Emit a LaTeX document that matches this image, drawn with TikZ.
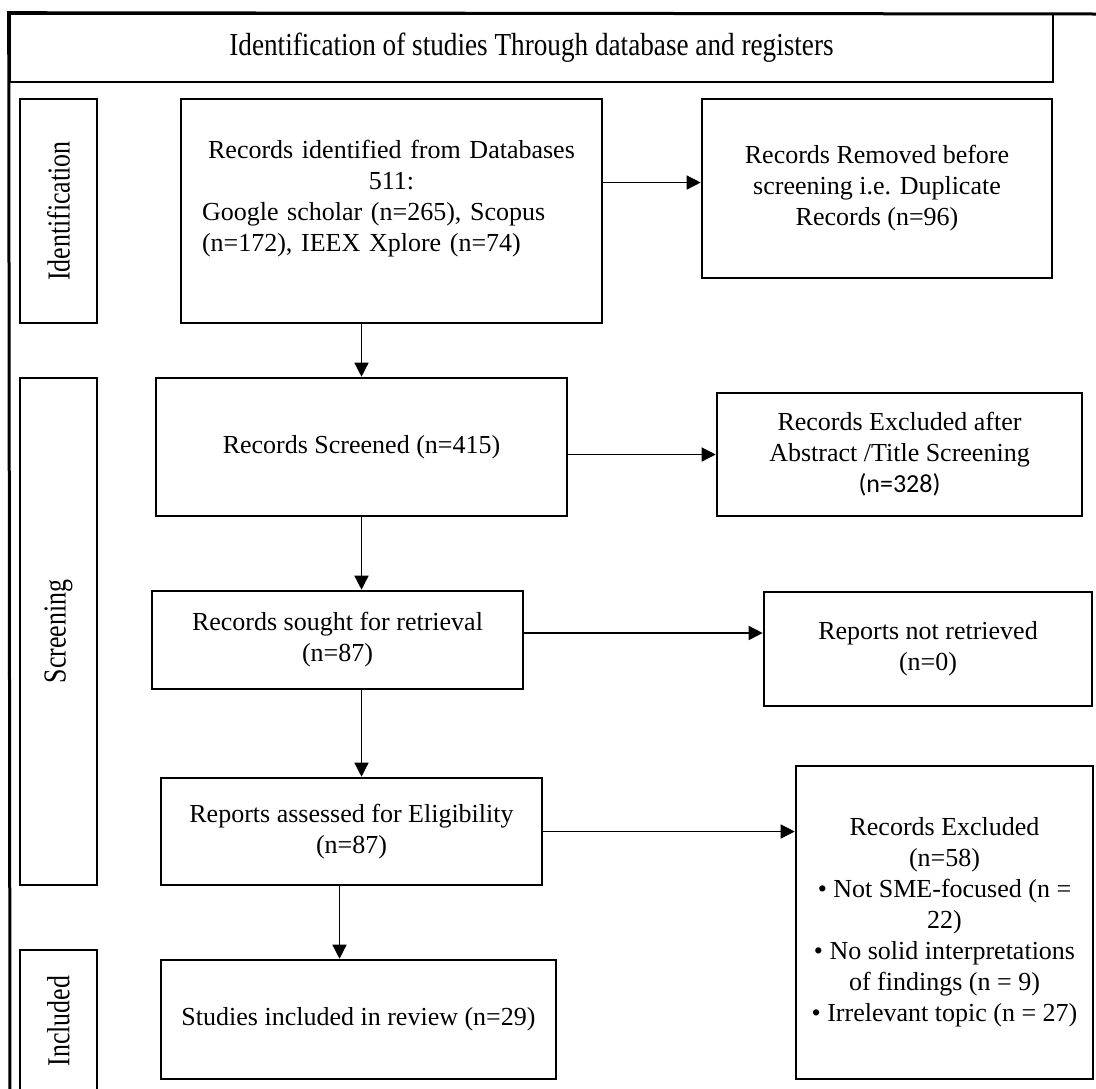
\documentclass[tikz,border=0pt]{standalone}
\usepackage{fontspec}
\setmainfont{Liberation Serif}
\newfontfamily\calibri{Carlito}
\usepackage{graphicx}
\usepackage{tikz}
\usetikzlibrary{arrows.meta,positioning}

\begin{document}
\begin{tikzpicture}[%
        >={Triangle[length=7pt,width=7pt]},
        on grid,
        box/.style={draw, line width=1.3pt, align=center, inner sep=0pt,
            font=\fontsize{13}{15.5}\selectfont},
        stage/.style={draw, line width=1.3pt, inner sep=0pt, minimum width=38.5pt},
        flow/.style={->, line width=0.7pt}
        ]
        \useasboundingbox (0,0) rectangle (548pt,-544pt);

        \node[box, minimum width=521.5pt, minimum height=34pt] (title) at (265.75pt,-24pt)
            {\scalebox{0.85}[1]{\fontsize{16}{19}\selectfont Identification of studies Through database and registers}};
        \coordinate (rim) at (548pt,-7pt);
        \coordinate (foot) at (5pt,-548pt);
        \draw[line width=1.5pt] (foot) -- (title.north west) -- (rim);

        % stage labels
        \node[stage, minimum height=112pt] (idstage) at (29.25pt,-105.5pt)
            {\rotatebox{90}{\scalebox{0.81}[1]{\fontsize{16}{19}\selectfont Identification}}};
        \node[stage, minimum height=253.5pt] (scrstage) [below=210.25pt of idstage]
            {\rotatebox{90}{\scalebox{0.81}[1]{\fontsize{16}{19}\selectfont Screening}}};
        \node[stage, minimum height=71pt] (incstage) [below=194.75pt of scrstage]
            {\rotatebox{90}{\scalebox{0.81}[1]{\fontsize{16}{19}\selectfont Included}}};

        % main column
        \node[box, minimum width=210.5pt, minimum height=112pt, text width=189.5pt, align=left]
            (dbrec) [right=166.5pt of idstage]
            {\centering Records identified from Databases\\511:\par
             \raggedright Google scholar (n=265), Scopus\\(n=172), IEEX Xplore (n=74)\\\mbox{}};
        \node[box, minimum width=205.5pt, minimum height=69pt] (screened) [below left=118pt and 15pt of dbrec]
            {Records Screened (n=415)};
        \node[box, minimum width=185.5pt, minimum height=49pt] (sought) [below left=96.5pt and 12pt of screened]
            {Records sought for retrieval\\(n=87)};
        \node[box, minimum width=190.5pt, minimum height=53.5pt] (assessed) [below right=95.75pt and 7pt of sought]
            {Reports assessed for Eligibility\\(n=87)};
        \node[box, minimum width=197.5pt, minimum height=59.5pt] (included) [below right=94pt and 3.5pt of assessed]
            {Studies included in review (n=29)};

        % side boxes
        \node[box, minimum width=175pt, minimum height=89.5pt] (removed) [above right=11.25pt and 242.75pt of dbrec]
            {Records Removed before\\screening i.e. Duplicate\\Records (n=96)};
        \node[box, minimum width=182.5pt, minimum height=61.5pt] (excl1) [below right=3.75pt and 269pt of screened]
            {Records Excluded after\\Abstract /Title Screening\\{\calibri (n=328)}};
        \node[box, minimum width=164pt, minimum height=57pt] (notret) [below right=4.5pt and 295.25pt of sought]
            {Reports not retrieved\\(n=0)};
        \node[box, minimum width=148.5pt, minimum height=156.5pt] (excl2) [below right=45.5pt and 296.5pt of assessed]
            {Records Excluded\\(n=58)\\\textbullet{} Not SME-focused (n =\\22)\\\textbullet{} No solid interpretations\\of findings (n = 9)\\\textbullet{} Irrelevant topic (n = 27)};

        \draw[flow] ([yshift=3pt]dbrec.east |- removed.west) -- ([yshift=3pt]removed.west);
        \draw[flow] (dbrec.south -| screened.north) -- (screened.north);
        \draw[flow] (screened.east |- excl1.west) -- (excl1.west);
        \draw[flow] (screened.south) -- (screened.south |- sought.north);
        \draw[flow] ([yshift=3.5pt]sought.east) -- ([yshift=3.5pt]sought.east -| notret.west);
        \draw[flow] (screened.south |- sought.south) -- (screened.south |- assessed.north);
        \draw[flow] (assessed.east) -- (assessed.east -| excl2.west);
        \draw[flow] ([xshift=-6pt]assessed.south) -- ([xshift=-6pt]assessed.south |- included.north);

    \end{tikzpicture}
\end{document}
